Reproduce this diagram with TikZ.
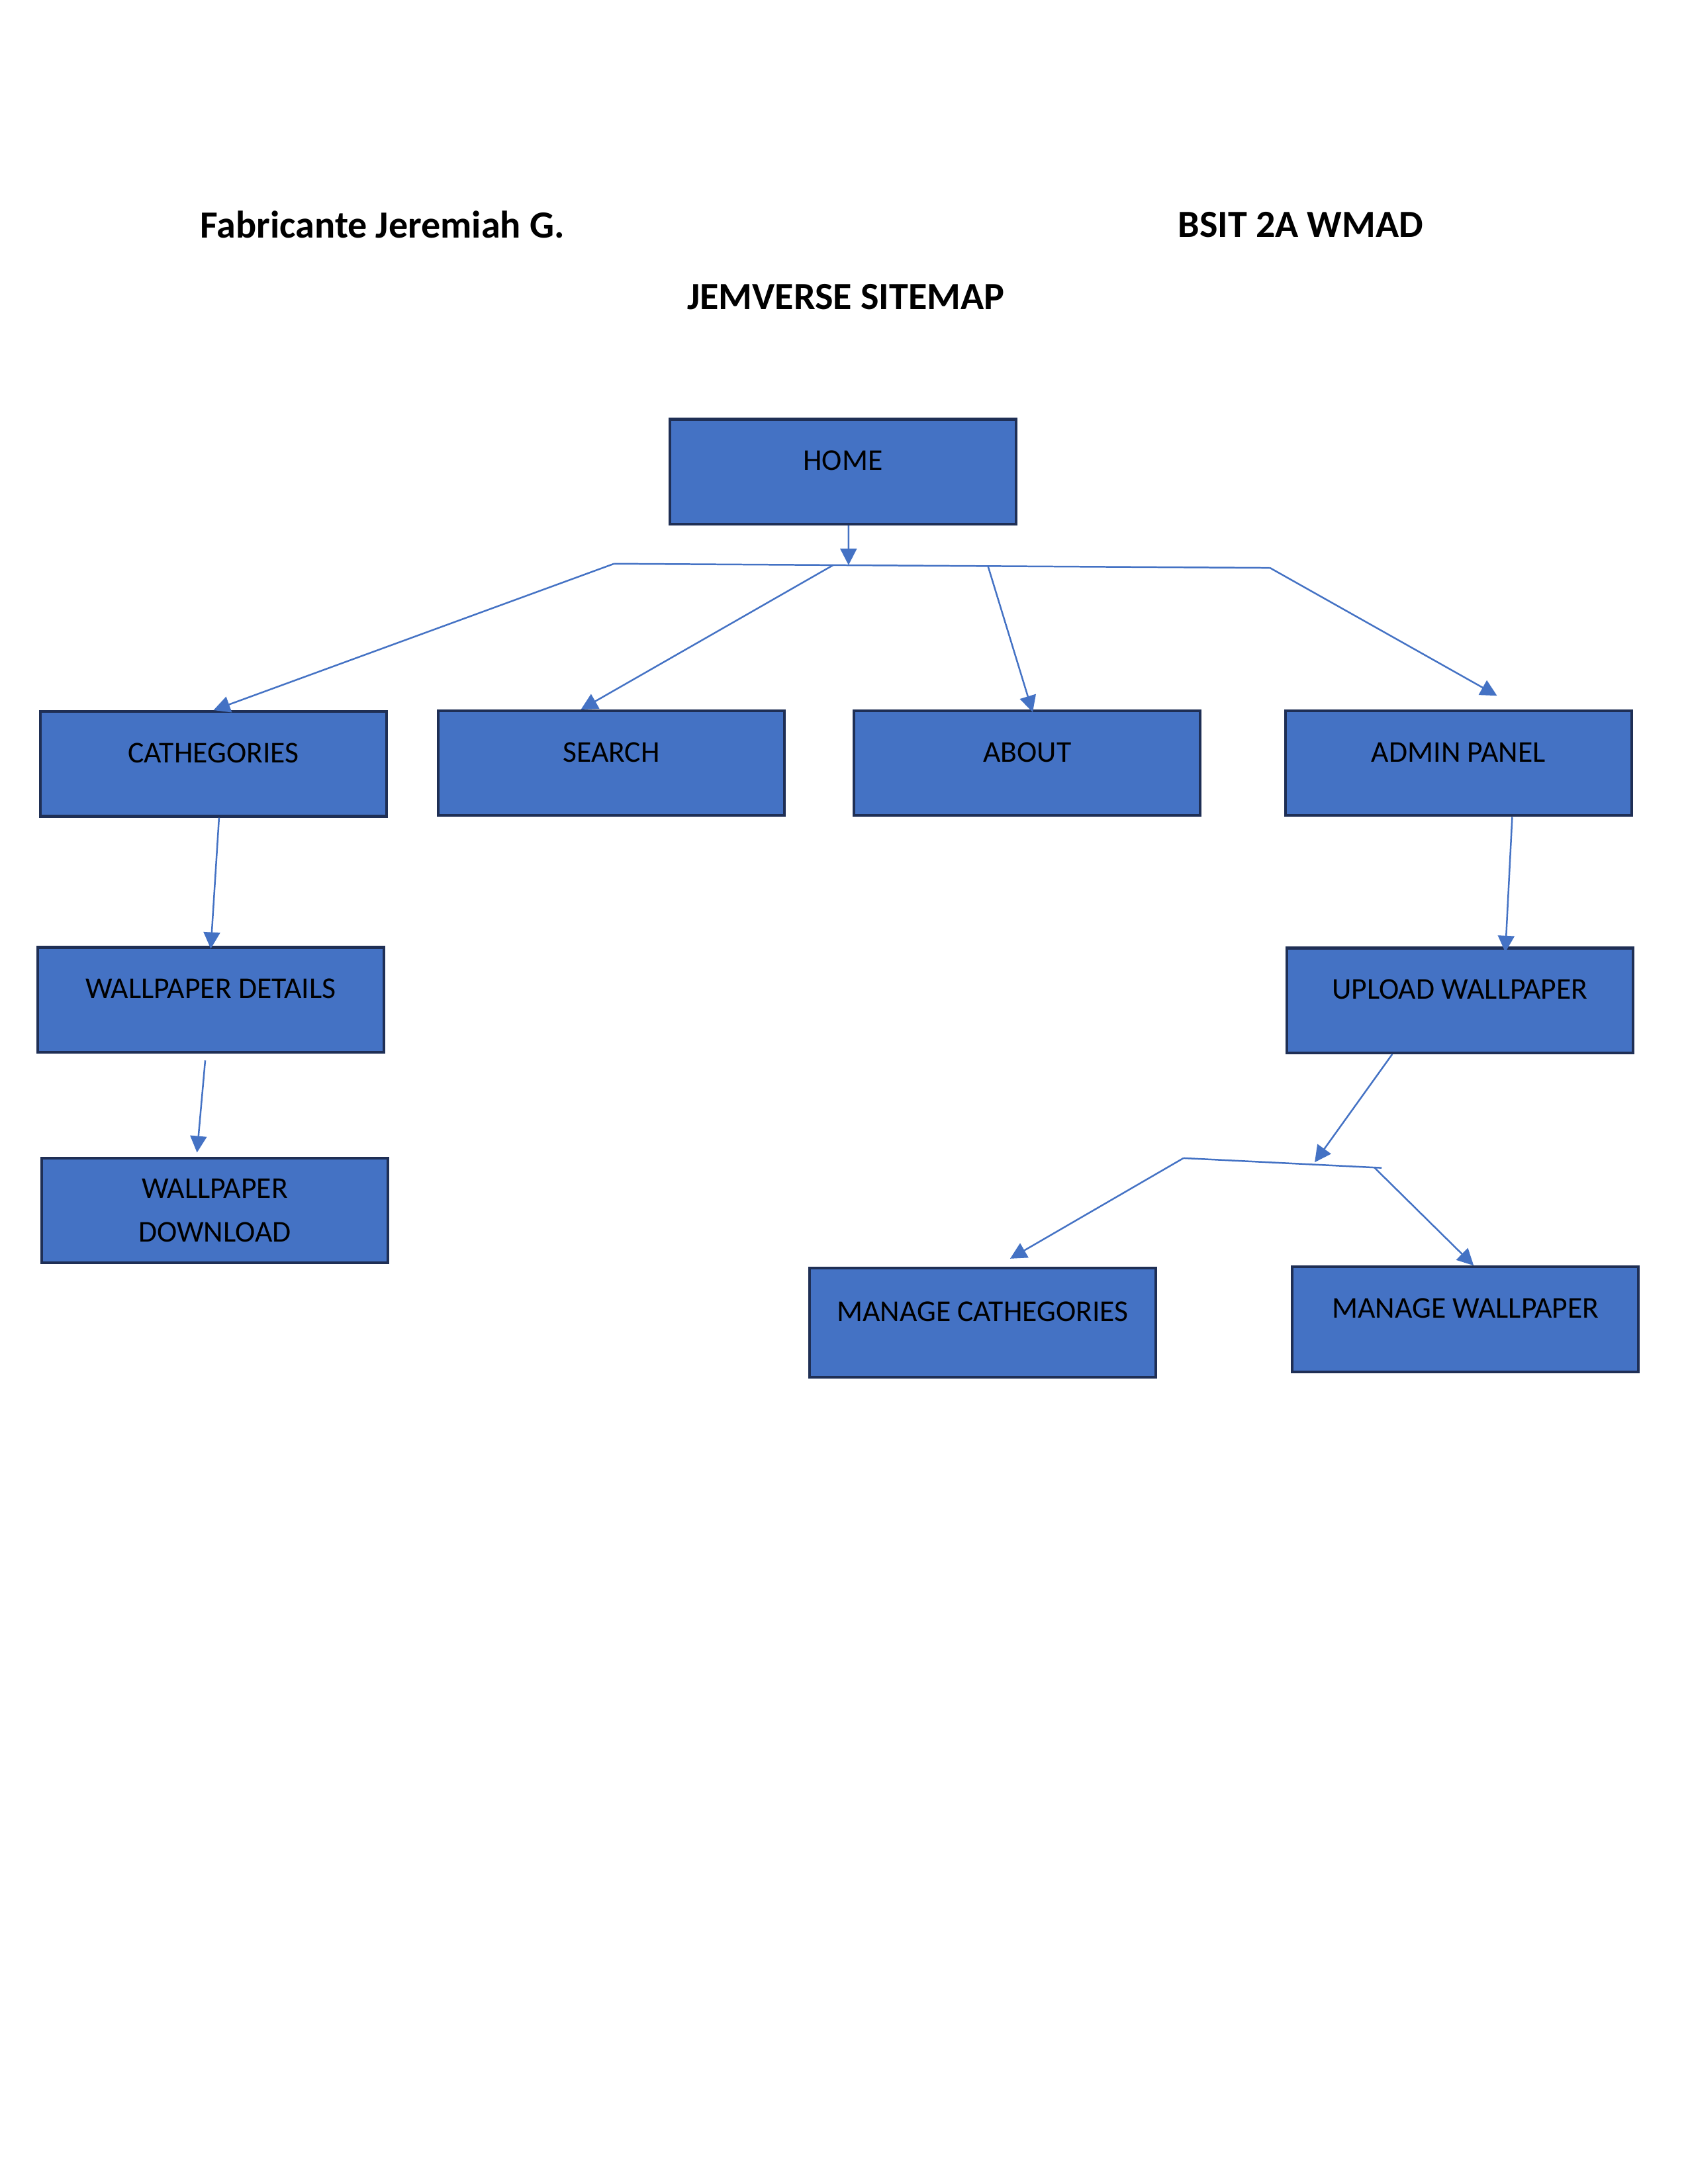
\documentclass[tikz,border=0pt]{standalone}
\usepackage{fontspec}
\setmainfont{Carlito}
\usetikzlibrary{arrows.meta}
\definecolor{boxfill}{HTML}{4472C4}
\definecolor{boxline}{HTML}{1F2F55}
\begin{document}
\begin{tikzpicture}[x=0.506bp,y=-0.506bp,
  box/.style={draw=boxline,line width=1pt,fill=boxfill,minimum width=125.5bp,minimum height=38bp,inner sep=0pt,font=\fontsize{11}{16}\selectfont,align=center},
  con/.style={draw=boxfill,line width=0.6pt},
  arr/.style={con,-{Triangle[length=6pt,width=6pt]}},
  ttl/.style={font=\bfseries\fontsize{14}{16}\selectfont}]
\useasboundingbox (0bp,0bp) rectangle (612bp,-792bp);
\node[ttl] (name) at (274,161) {Fabricante Jeremiah G.};
\node[ttl] (cls) at (932,161) {BSIT 2A WMAD};
\node[ttl] (title) at (606,213) {JEMVERSE SITEMAP};
\node[box] (home) at (604,338) {\raisebox{8pt}{HOME}};
\node[box] (cat) at (153,547.5) {\raisebox{8pt}{CATHEGORIES}};
\node[box] (search) at (438,547) {\raisebox{8pt}{SEARCH}};
\node[box] (about) at (736,547) {\raisebox{8pt}{ABOUT}};
\node[box] (admin) at (1045,547) {\raisebox{8pt}{ADMIN PANEL}};
\node[box] (det) at (151,716.5) {\raisebox{8pt}{WALLPAPER DETAILS}};
\node[box] (down) at (154,867.5) {WALLPAPER\\DOWNLOAD};
\node[box] (up) at (1046,717) {\raisebox{8pt}{UPLOAD WALLPAPER}};
\node[box,minimum height=39.5bp] (mcat) at (704,948) {\raisebox{8pt}{MANAGE CATHEGORIES}};
\node[box] (mwal) at (1050,945.5) {\raisebox{8pt}{MANAGE WALLPAPER}};
\coordinate (jl) at (440,404);
\coordinate (jm) at (608,405);
\coordinate (js) at (597,405);
\coordinate (ja) at (708,406);
\coordinate (jr) at (910,407);
\coordinate (kl) at (848,830);
\coordinate (km) at (942,833);
\coordinate (kr) at (990,837);
\coordinate (kr2) at (985,837);
\draw[con] (jl) -- (jr);
\draw[arr] ([xshift=2bp]home.south) -- (jm);
\draw[arr] (jl) -- (cat.north);
\draw[arr] (js) -- ([xshift=-11bp]search.north);
\draw[arr] (ja) -- ([xshift=2bp,yshift=-1bp]about.north);
\draw[arr] (jr) -- ([xshift=14bp,yshift=5bp]admin.north);
\draw[arr] ([xshift=2bp]cat.south) -- ([yshift=-1bp]det.north);
\draw[arr] ([xshift=-2bp,yshift=-2.5bp]det.south) -- ([xshift=-6.5bp,yshift=1.5bp]down.north);
\draw[arr] ([xshift=19.5bp]admin.south) -- ([xshift=16.5bp,yshift=-2bp]up.north);
\draw[arr] ([xshift=-24.5bp]up.south) -- (km);
\draw[con] (kl) -- (kr);
\draw[arr] (kl) -- ([xshift=10bp,yshift=3bp]mcat.north);
\draw[arr] (kr2) -- ([xshift=3bp]mwal.north);
\end{tikzpicture}
\end{document}
